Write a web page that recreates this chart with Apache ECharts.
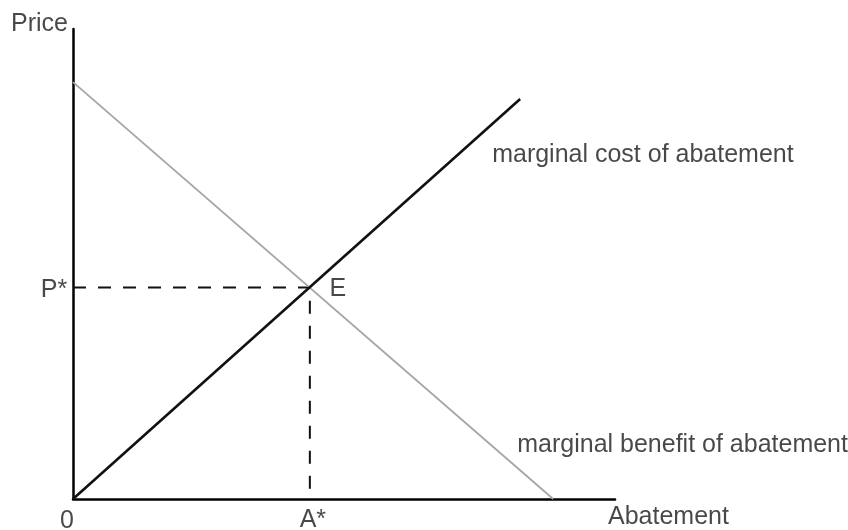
<!DOCTYPE html>
<html>
<head>
<meta charset="utf-8">
<script src="https://cdn.jsdelivr.net/npm/echarts@6/dist/echarts.min.js"></script>
<style>
  html, body { margin: 0; padding: 0; background: #fff; }
  #chart { width: 848px; height: 530px; }
</style>
</head>
<body>
<div id="chart"></div>
<script>
// curve end points (abatement, price) on a 0..100 scale
const mcX = [0, 82.5];
const mcY = [0, 85.1];
const mbX = [0, 88.6];
const mbY = [88.7, 0];
// equilibrium point E
const eqX = 43.7;
const eqY = 45;

// text labels: [text, x, y]
const labelText = ['Price', '0', 'A*', 'P*', 'E', 'Abatement', 'marginal cost of abatement', 'marginal benefit of abatement'];
const labelX = [0, 0, eqX, 0, eqX, 100, 82.5, 88.6];
const labelY = [100, 0, 0, eqY, eqY, 0, 85.1, 0];

// pixel nudges for each label (dx, dy, align)
const labelOffset = [[-62, -5], [-6, 22], [3, 21], [-19, 3], [28, 2], [-7, 18], [-28, 56], [-36, -54]];
const labelAlign = ['left', 'center', 'center', 'center', 'center', 'left', 'left', 'left'];

function initChart() {
  const chartDom = document.getElementById('chart');
  const myChart = echarts.init(chartDom);

  const textStyle = {
    fontFamily: 'Liberation Sans, Arial, sans-serif',
    fontSize: 25,
    color: '#1a1a1a'
  };

  const option = {
    animation: false,
    backgroundColor: '#fff',
    grid: { left: 73, right: 233, top: 29, bottom: 31 },
    xAxis: {
      type: 'value',
      min: 0,
      max: 100,
      axisLine: { show: true, onZero: false, lineStyle: { color: '#000', width: 2.5 } },
      axisTick: { show: false },
      axisLabel: { show: false },
      splitLine: { show: false }
    },
    yAxis: {
      type: 'value',
      min: 0,
      max: 100,
      axisLine: { show: true, onZero: false, lineStyle: { color: '#000', width: 2.5 } },
      axisTick: { show: false },
      axisLabel: { show: false },
      splitLine: { show: false }
    },
    series: [
      {
        name: 'marginal benefit',
        type: 'line',
        data: mbX.map((x, i) => [x, mbY[i]]),
        symbol: 'none',
        lineStyle: { color: '#a6a6a6', width: 1.8 },
        z: 2
      },
      {
        name: 'marginal cost',
        type: 'line',
        data: mcX.map((x, i) => [x, mcY[i]]),
        symbol: 'none',
        lineStyle: { color: '#111', width: 2.6 },
        z: 3
      },
      {
        name: 'equilibrium',
        type: 'line',
        data: [[0, eqY], [eqX, eqY], [eqX, 0]],
        symbol: 'none',
        lineStyle: { color: '#111', width: 2, type: [13, 12] },
        z: 1
      },
      {
        name: 'labels',
        type: 'scatter',
        clip: false,
        symbolSize: 0,
        silent: true,
        data: labelText.map((t, i) => ({
          value: [labelX[i], labelY[i]],
          label: {
            show: true,
            formatter: t,
            position: 'inside',
            offset: labelOffset[i],
            align: labelAlign[i],
            verticalAlign: 'middle',
            ...textStyle
          }
        })),
        z: 5
      }
    ]
  };

  myChart.setOption(option);
}

initChart();
</script>
</body>
</html>
